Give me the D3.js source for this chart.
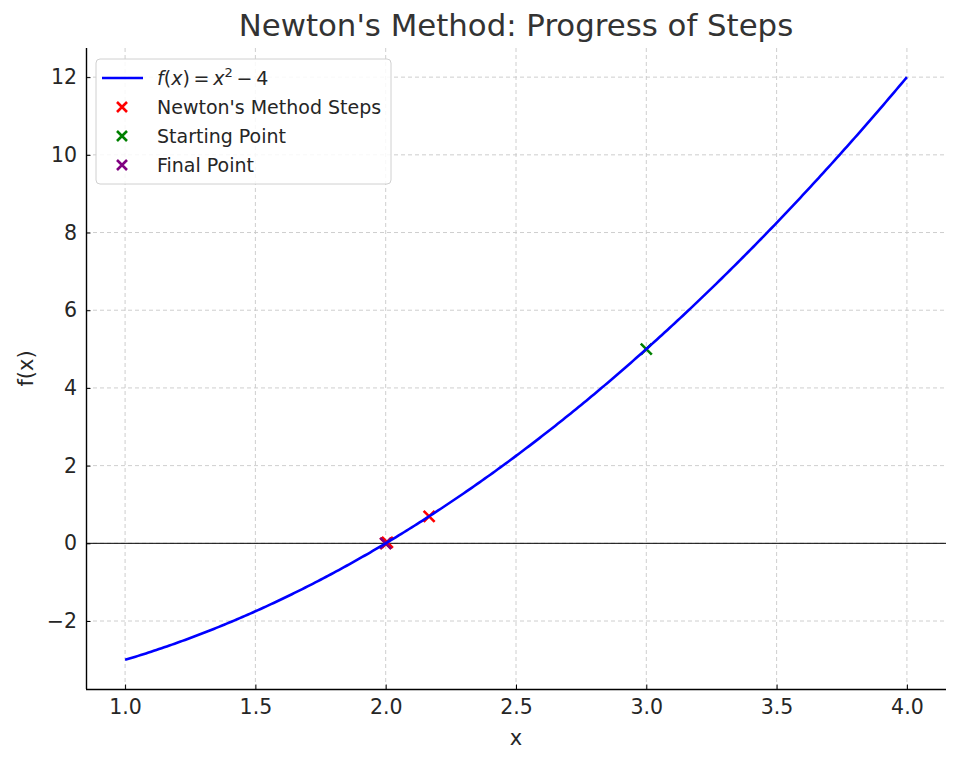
<!DOCTYPE html>
<html><head><meta charset="utf-8">
<script src="https://cdn.jsdelivr.net/npm/d3@7"></script>
<style>body{margin:0;background:#fff}svg{font-family:"DejaVu Sans",sans-serif}</style>
</head><body><svg id="c" width="960" height="764"></svg>
<script>
// Data
const curveX = d3.range(1, 4.0001, 0.01);
const curveY = curveX.map(x => x * x - 4);
const stepX = [2.1667, 2.0064, 2.0000];
const stepY = [0.6944, 0.0257, 0.0000];
const startX = [3.0], startY = [5.0];
const finalX = [2.0], finalY = [0.0];
const xTicks = [1.0, 1.5, 2.0, 2.5, 3.0, 3.5, 4.0];
const yTicks = [-2, 0, 2, 4, 6, 8, 10, 12];

const svg = d3.select("#c");
const L = 86, R = 946, T = 48, B = 689;
const x = d3.scaleLinear().domain([0.85, 4.15]).range([L, R]);
const y = d3.scaleLinear().domain([-3.75, 12.75]).range([B, T]);
const txt = "#262626";

// grid
svg.append("g").selectAll("line").data(xTicks).join("line")
  .attr("x1", d => x(d)).attr("x2", d => x(d)).attr("y1", T).attr("y2", B)
  .attr("stroke", "#c8c8c8").attr("stroke-width", 0.9).attr("stroke-dasharray", "4,3");
svg.append("g").selectAll("line").data(yTicks).join("line")
  .attr("y1", d => y(d)).attr("y2", d => y(d)).attr("x1", L).attr("x2", R)
  .attr("stroke", "#c8c8c8").attr("stroke-width", 0.9).attr("stroke-dasharray", "4,3");

// zero line
svg.append("line").attr("x1", L).attr("x2", R).attr("y1", y(0)).attr("y2", y(0))
  .attr("stroke", "#000").attr("stroke-width", 1);

// axes
const xa = svg.append("g").attr("transform", `translate(0,${B})`)
  .call(d3.axisBottom(x).tickValues(xTicks).tickFormat(d3.format(".1f")).tickSizeInner(-4.5).tickSizeOuter(0).tickPadding(10));
const ya = svg.append("g").attr("transform", `translate(${L},0)`)
  .call(d3.axisLeft(y).tickValues(yTicks).tickFormat(d => d < 0 ? "\u2212" + Math.abs(d) : d).tickSizeInner(-4.5).tickSizeOuter(0).tickPadding(9));
[xa, ya].forEach(a => {
  a.attr("font-size", null).attr("font-family", null);
  a.select(".domain").attr("stroke", "#000").attr("stroke-width", 1.4);
  a.selectAll(".tick line").attr("stroke", "#000").attr("stroke-width", 1);
  a.selectAll("text").style("font-size", "20.5px").attr("fill", txt).style("font-family", "DejaVu Sans");
});
xa.select(".domain").attr("d", `M${L},0.5H${R}`);
ya.select(".domain").attr("d", `M0.5,${B}V${T}`);

function cross(g, cx, cy, color, s = 5.5) {
  const p = `M${cx - s},${cy - s}L${cx + s},${cy + s}M${cx - s},${cy + s}L${cx + s},${cy - s}`;
  g.append("path").attr("d", p).attr("stroke", color).attr("stroke-width", 2.6).attr("fill", "none");
}
const mk = svg.append("g");
stepX.forEach((v, i) => cross(mk, x(v), y(stepY[i]), "#ff0000"));
startX.forEach((v, i) => cross(mk, x(v), y(startY[i]), "#008000"));
finalX.forEach((v, i) => cross(mk, x(v), y(finalY[i]), "#800080"));

// curve
svg.append("path").datum(curveX.map((v, i) => [v, curveY[i]]))
  .attr("d", d3.line().x(d => x(d[0])).y(d => y(d[1])))
  .attr("fill", "none").attr("stroke", "#0000ff").attr("stroke-width", 2.6);

// title & labels
svg.append("text").attr("x", (L + R) / 2).attr("y", 36).attr("text-anchor", "middle")
  .style("font-size", "30.8px").attr("fill", "#333").text("Newton's Method: Progress of Steps");
svg.append("text").attr("x", (L + R) / 2).attr("y", 745).attr("text-anchor", "middle")
  .style("font-size", "21px").attr("fill", txt).text("x");
svg.append("text").attr("transform", `translate(33,${(T + B) / 2}) rotate(-90)`).attr("text-anchor", "middle")
  .style("font-size", "21px").attr("fill", txt).text("f(x)");

// legend
const lg = svg.append("g");
lg.append("rect").attr("x", 96).attr("y", 59).attr("width", 295).attr("height", 125).attr("rx", 4)
  .attr("fill", "rgba(255,255,255,0.85)").attr("stroke", "#d0d0d0").attr("stroke-width", 1);
lg.append("line").attr("x1", 102).attr("x2", 143).attr("y1", 78).attr("y2", 78)
  .attr("stroke", "#0000ff").attr("stroke-width", 2.6);
const lt = lg.append("text").attr("x", 157).attr("y", 84.5).style("font-size", "19px").attr("fill", txt);
lt.append("tspan").attr("font-style", "italic").text("f");
lt.append("tspan").text("(");
lt.append("tspan").attr("font-style", "italic").text("x");
lt.append("tspan").text(")\u2009=\u2009");
lt.append("tspan").attr("font-style", "italic").text("x");
lt.append("tspan").style("font-size", "13px").attr("dy", -8).text("2");
lt.append("tspan").attr("dy", 8).text("\u2009\u2212\u20094");
const items = [["Newton's Method Steps", "#ff0000"], ["Starting Point", "#008000"], ["Final Point", "#800080"]];
items.forEach((it, i) => {
  const cy = 107 + i * 29;
  cross(lg, 122, cy, it[1], 5);
  lg.append("text").attr("x", 157).attr("y", cy + 7).style("font-size", "19px").attr("fill", txt).text(it[0]);
});
</script></body></html>
